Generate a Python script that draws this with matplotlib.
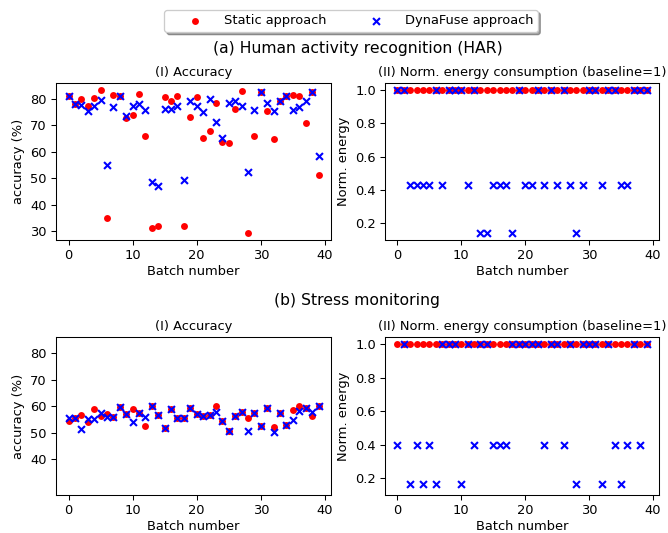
import numpy as np
import matplotlib
matplotlib.use('Agg')
import matplotlib.pyplot as plt

# batch index 0..39
batches = list(range(40))

# (a) HAR - accuracy (%)
har_static_acc = [81.2, 78.0, 80.2, 77.5, 80.4, 83.4, 35.0, 81.7, 81.0, 72.8,
                  74.1, 81.9, 65.9, 31.0, 31.8, 80.7, 79.2, 81.2, 32.0, 73.4,
                  80.9, 65.2, 67.9, 78.7, 63.9, 63.5, 76.2, 83.1, 29.3, 66.1,
                  82.6, 75.6, 64.8, 79.1, 81.2, 81.6, 81.2, 70.8, 82.6, 51.3]
har_dyna_acc = [81.2, 78.0, 77.7, 75.5, 77.5, 79.6, 55.1, 77.0, 81.0, 73.6,
                77.5, 78.0, 75.7, 48.4, 47.2, 76.2, 76.2, 77.2, 49.5, 79.4,
                77.5, 75.1, 80.2, 71.5, 65.1, 78.4, 79.1, 77.2, 52.3, 75.9,
                82.6, 78.5, 75.5, 79.1, 81.2, 76.0, 76.9, 79.4, 82.6, 58.5]

# (a) HAR - normalised energy
har_static_energy = [1.0] * 40
har_dyna_energy = [1.0, 1.0, 0.43, 0.43, 0.43, 0.43, 1.0, 0.43, 1.0, 1.0,
                   1.0, 0.43, 1.0, 0.143, 0.143, 0.43, 0.43, 0.43, 0.143, 1.0,
                   0.43, 0.43, 1.0, 0.43, 1.0, 0.43, 1.0, 0.43, 0.143, 0.43,
                   1.0, 1.0, 0.43, 1.0, 1.0, 0.43, 0.43, 1.0, 1.0, 1.0]

# (b) Stress monitoring - accuracy (%)
st_static_acc = [54.3, 55.6, 56.8, 54.0, 59.0, 56.2, 57.2, 55.8, 59.6, 57.2,
                 59.0, 57.3, 52.6, 60.0, 56.8, 52.0, 59.0, 55.6, 55.6, 59.5,
                 57.1, 56.2, 56.8, 60.2, 54.3, 50.6, 56.5, 57.8, 55.6, 57.3,
                 52.7, 59.5, 52.3, 57.3, 53.1, 58.6, 60.0, 59.5, 56.3, 60.0]
st_dyna_acc = [55.6, 55.6, 51.6, 55.3, 55.3, 57.3, 55.8, 55.8, 59.6, 57.2,
               54.1, 57.3, 55.8, 60.0, 56.8, 52.0, 59.0, 55.6, 55.6, 59.5,
               57.1, 56.2, 56.8, 58.0, 54.3, 50.6, 56.2, 57.8, 50.6, 57.3,
               52.7, 59.5, 50.2, 57.3, 53.1, 54.7, 58.3, 59.5, 58.0, 60.0]

# (b) Stress monitoring - normalised energy
st_static_energy = [1.0] * 40
st_dyna_energy = [0.40, 1.0, 0.167, 0.40, 0.167, 0.40, 0.167, 1.0, 1.0, 1.0,
                  0.167, 1.0, 0.40, 1.0, 1.0, 0.40, 0.40, 0.40, 1.0, 1.0,
                  1.0, 1.0, 1.0, 0.40, 1.0, 1.0, 0.40, 1.0, 0.167, 1.0,
                  1.0, 1.0, 0.167, 1.0, 0.40, 0.167, 0.40, 1.0, 0.40, 1.0]

W, H = 668, 533
DPI = 94
fig = plt.figure(figsize=(W / DPI, H / DPI), dpi=DPI)


def px_axes(x0, x1, y0, y1):
    return fig.add_axes([x0 / W, 1 - y1 / H, (x1 - x0) / W, (y1 - y0) / H])


ax_a1 = px_axes(56, 331, 83, 240)
ax_a2 = px_axes(385, 659, 83, 240)
ax_b1 = px_axes(56, 331, 337, 495)
ax_b2 = px_axes(385, 659, 337, 495)

dot_kw = dict(color='red', marker='o', s=28, linewidths=0, zorder=2)
x_kw = dict(color='blue', marker='x', s=28, linewidths=1.6, zorder=3)


def draw(ax, static_vals, dyna_vals, ylabel, title):
    ax.scatter(batches, static_vals, label='Static approach', **dot_kw)
    ax.scatter(batches, dyna_vals, label='DynaFuse approach', **x_kw)
    ax.set_xlabel('Batch number', fontsize=10, labelpad=2)
    ax.set_ylabel(ylabel, fontsize=10)
    ax.set_title(title, fontsize=10, pad=5)
    ax.set_xticks([0, 10, 20, 30, 40])
    ax.tick_params(labelsize=10)


draw(ax_a1, har_static_acc, har_dyna_acc, 'accuracy (%)', '(I) Accuracy')
draw(ax_a2, har_static_energy, har_dyna_energy, 'Norm. energy',
     '(II) Norm. energy consumption (baseline=1)')
draw(ax_b1, st_static_acc, st_dyna_acc, 'accuracy (%)', '(I) Accuracy')
draw(ax_b2, st_static_energy, st_dyna_energy, 'Norm. energy',
     '(II) Norm. energy consumption (baseline=1)')

ax_a1.set_yticks([30, 40, 50, 60, 70, 80])
ax_b1.set_yticks([40, 50, 60, 70, 80])
ax_b1.set_ylim(ax_a1.get_ylim())
ax_a2.set_yticks([0.2, 0.4, 0.6, 0.8, 1.0])
ax_b2.set_yticks([0.2, 0.4, 0.6, 0.8, 1.0])
ax_b2.set_ylim(ax_a2.get_ylim())

fig.text(0.535, 1 - 49 / H, '(a) Human activity recognition (HAR)',
         ha='center', va='center', fontsize=12)
fig.text(0.535, 1 - 301 / H, '(b) Stress monitoring',
         ha='center', va='center', fontsize=12)

handles, labels = ax_a1.get_legend_handles_labels()
fig.legend(handles, labels, loc='center', ncol=2, fontsize=10,
           bbox_to_anchor=(351 / W, 1 - 21 / H), shadow=True,
           borderpad=0.35, handlelength=4, handletextpad=0.2,
           columnspacing=1.8)

fig.savefig('out.png', dpi=DPI)
